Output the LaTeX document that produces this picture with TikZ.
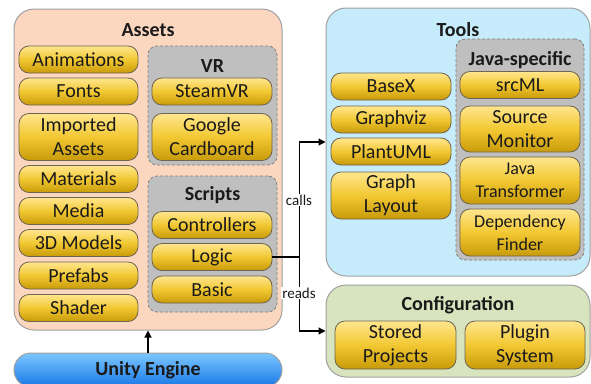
\documentclass[tikz,border=0pt]{standalone}
\usepackage{fontspec}
\setmainfont{Carlito}
\usetikzlibrary{arrows.meta}
\definecolor{assetsfill}{HTML}{FBD7C0}
\definecolor{toolsfill}{HTML}{C6EBFA}
\definecolor{configfill}{HTML}{D7E4BD}
\definecolor{groupfill}{HTML}{BFBFBF}
\definecolor{groupborder}{HTML}{808080}
\definecolor{boxborder}{HTML}{A0A0A0}
\definecolor{itemborder}{HTML}{6E6450}
\definecolor{goldtop}{HTML}{FFE68E}
\definecolor{goldmid}{HTML}{F2C832}
\definecolor{goldbot}{HTML}{C89A0A}
\definecolor{unitytop}{HTML}{7CC6FF}
\definecolor{unitybot}{HTML}{1878E6}
\definecolor{txt}{HTML}{1A1A1A}
\tikzset{
  item/.style={draw=itemborder, line width=0.8pt, rounded corners=10pt,
    top color=goldtop, bottom color=goldbot, middle color=goldmid,
    minimum width=120pt, minimum height=27pt, inner sep=0pt, align=center,
    text=txt, font=\fontsize{20}{24}\selectfont},
  tall/.style={minimum height=47pt},
  small/.style={font=\fontsize{18}{23}\selectfont},
  container/.style={draw=boxborder, line width=1pt, rounded corners=20pt, inner sep=0pt},
  groupbox/.style={draw=groupborder, dash pattern=on 3pt off 2pt, fill=groupfill,
    rounded corners=9pt, line width=0.8pt, inner sep=0pt},
  title/.style={font=\fontsize{20}{24}\selectfont\bfseries, text=txt, inner sep=0pt},
  conn/.style={line width=1.2pt, black},
  arr/.style={conn, -{Triangle[length=7pt,width=7pt]}},
  lbl/.style={font=\fontsize{15}{18}\selectfont, fill=white, inner sep=1pt, text=txt}
}
\begin{document}
\begin{tikzpicture}[x=1pt,y=-1pt]
\clip (0,0) rectangle (591,383);
\fill[white] (0,0) rectangle (591,383);
% containers
\node[container, fill=assetsfill, minimum width=268pt, minimum height=321pt] (assets) at (148,169.5) {};
\node[container, fill=toolsfill, minimum width=264pt, minimum height=268pt] (tools) at (458,142) {};
\node[container, fill=configfill, minimum width=264pt, minimum height=92pt] (config) at (458,331) {};
\node[container, rounded corners=17pt, top color=unitytop, bottom color=unitybot, minimum width=268pt, minimum height=34pt] (unity) at (148,370) {};
\node[title] (unitylbl) at (148,370) {Unity Engine};
% titles
\node[title] (assetstitle) at (148,30) {Assets};
\node[title] (toolstitle) at (458,30) {Tools};
\node[title] (configtitle) at (458,305) {Configuration};
% groups
\node[groupbox, minimum width=129pt, minimum height=119pt] (vr) at (212.5,105.5) {};
\node[groupbox, minimum width=129pt, minimum height=136pt] (scripts) at (212.5,244) {};
\node[groupbox, minimum width=128pt, minimum height=221pt] (java) at (520,149.5) {};
\node[title] (vrtitle) at (212.5,66) {VR};
\node[title] (scriptstitle) at (212.5,195) {Scripts};
\node[title] (javatitle) at (520,60) {Java-specific};
% assets left column
\node[item, minimum width=119pt] (anim) at (78.5,59.5) {Animations};
\node[item, minimum width=119pt] (fonts) at (78.5,91.5) {Fonts};
\node[item, tall, minimum width=119pt] (imported) at (78.5,137) {Imported\\Assets};
\node[item, minimum width=119pt] (materials) at (78.5,179) {Materials};
\node[item, minimum width=119pt] (media) at (78.5,211) {Media};
\node[item, minimum width=119pt] (models) at (78.5,243) {3D Models};
\node[item, minimum width=119pt] (prefabs) at (78.5,275.5) {Prefabs};
\node[item, minimum width=119pt] (shader) at (78.5,308) {Shader};
% VR
\node[item] (steamvr) at (212,91.5) {SteamVR};
\node[item, tall] (cardboard) at (212,137) {Google\\Cardboard};
% Scripts
\node[item] (controllers) at (212,225) {Controllers};
\node[item] (logic) at (212,257) {Logic};
\node[item] (basic) at (212,289.5) {Basic};
% Tools
\node[item] (basex) at (391,86.5) {BaseX};
\node[item] (graphviz) at (391,119.5) {Graphviz};
\node[item] (plantuml) at (391,151.5) {PlantUML};
\node[item, tall] (graphlayout) at (391,195.5) {Graph\\Layout};
\node[item] (srcml) at (520,85) {srcML};
\node[item, tall, minimum height=46pt] (sourcemon) at (520,129) {Source\\Monitor};
\node[item, tall, small] (javatrans) at (520,180.5) {Java\\Transformer};
\node[item, tall, small] (depfinder) at (520,232.5) {Dependency\\Finder};
% Configuration
\node[item, tall, minimum height=48pt, minimum width=121pt] (stored) at (395.5,345) {Stored\\Projects};
\node[item, tall, minimum height=48pt] (plugin) at (525,345) {Plugin\\System};
% connectors
\draw[arr] (unity.north) -- (assets.south);
\draw[conn] (logic.east) -- ++(27,0) coordinate (j);
\draw[arr] (j) |- (tools.west);
\draw[arr] (j) |- (config.west);
\node[lbl] (calls) at (299,200) {calls};
\node[lbl] (reads) at (299,293) {reads};
\end{tikzpicture}
\end{document}
